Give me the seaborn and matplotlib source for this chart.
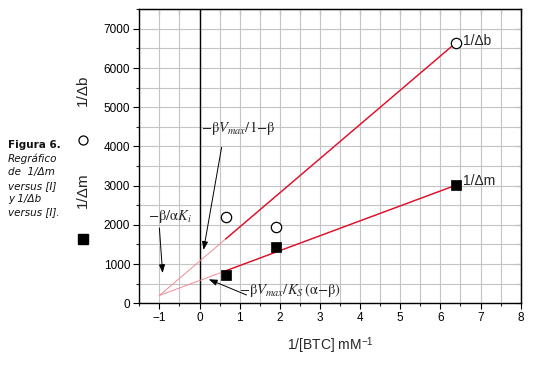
import numpy as np
import matplotlib
matplotlib.use("Agg")
import matplotlib.pyplot as plt
import matplotlib.lines as mlines
from matplotlib.ticker import MultipleLocator
import seaborn as sns

# values
inv_btc = [0.65, 1.9, 6.38]          # 1/[BTC] mM^-1
inv_db = [2200, 1950, 6640]          # 1/Δb
inv_dm = [730, 1430, 3010]           # 1/Δm

# straight-line fits, both meeting at x = -1
fit_x = [-1.0, 6.38]
fit_db = [200, 6640]
fit_dm = [200, 3010]
solid_from = 0.65

sns.set_style("ticks")
plt.rcParams["font.family"] = ["Liberation Sans", "DejaVu Sans"]
plt.rcParams["mathtext.fontset"] = "stix"

fig = plt.figure(figsize=(5.35, 3.67), dpi=100)
ax = fig.add_axes([0.2604, 0.1736, 0.9733 - 0.2604, 0.9747 - 0.1736])

ax.set_xlim(-1.5, 8)
ax.set_ylim(0, 7500)
ax.xaxis.set_major_locator(MultipleLocator(1))
ax.xaxis.set_minor_locator(MultipleLocator(0.5))
ax.yaxis.set_major_locator(MultipleLocator(1000))
ax.yaxis.set_minor_locator(MultipleLocator(500))
ax.grid(True, which="both", color="#c4c4c4", lw=0.8)
ax.set_axisbelow(True)
ax.axvline(0, color="black", lw=1.0, zorder=1.5)

red = "#e0102a"
pink = "#f08a96"
for fy in (fit_db, fit_dm):
    # faint extrapolated part, then the solid part over the data
    y_solid = np.interp(solid_from, fit_x, fy)
    sns.lineplot(x=fit_x, y=fy, ax=ax, color=pink, lw=0.7, zorder=2)
    sns.lineplot(x=[solid_from, fit_x[1]], y=[y_solid, fy[1]], ax=ax,
                 color=red, lw=1.0, zorder=2.2)

sns.scatterplot(x=inv_btc, y=inv_db, ax=ax, marker="o", s=55,
                facecolor="white", edgecolor="black", linewidth=0.9, zorder=3)
sns.scatterplot(x=inv_btc, y=inv_dm, ax=ax, marker="s", s=55,
                color="black", edgecolor="black", linewidth=0.5, zorder=3)

ax.text(6.55, 6700, "1/Δb", fontsize=10, va="center", ha="left")
ax.text(6.55, 3110, "1/Δm", fontsize=10, va="center", ha="left")

for sp in ax.spines.values():
    sp.set_color("black")
    sp.set_linewidth(1.0)
ax.tick_params(axis="both", which="major", direction="out", length=4.5,
               width=0.8, labelsize=8.5, pad=2, colors="black")
ax.tick_params(axis="both", which="minor", direction="out", length=2.5,
               width=0.8)

top = ax.secondary_xaxis("top")
top.xaxis.set_major_locator(MultipleLocator(0.5))
top.tick_params(direction="in", length=4.5, width=0.8, labeltop=False)
right = ax.secondary_yaxis("right")
right.yaxis.set_major_locator(MultipleLocator(1000))
right.yaxis.set_minor_locator(MultipleLocator(500))
right.tick_params(which="major", direction="in", length=4.5, width=0.8,
                  labelright=False)
right.tick_params(which="minor", direction="in", length=2.5, width=0.8)

ax.set_xlabel("1/[BTC] mM$^{\\mathregular{-1}}$", fontsize=10, labelpad=8)
ax.set_ylabel("")

# annotations
arrow = dict(arrowstyle="-|>,head_length=0.5,head_width=0.18", color="black",
             lw=0.7, shrinkA=0, shrinkB=0)
ax.annotate("", xy=(-0.92, 770), xytext=(-1.0, 1920), arrowprops=arrow)
ax.text(-0.75, 2220, r"$-\mathrm{\beta/\alpha}K_i$", fontsize=10.5,
        ha="center", va="center")
ax.annotate("", xy=(0.1, 1360), xytext=(0.55, 3980), arrowprops=arrow)
ax.text(0.95, 4470, r"$-\mathrm{\beta}V_{max}/\mathrm{1{-}\beta}$",
        fontsize=10.5, ha="center", va="center")
ax.annotate("", xy=(0.23, 612), xytext=(1.17, 212), arrowprops=arrow)
ax.text(2.25, 340,
        r"$-\mathrm{\beta}V_{max}/K_S\,\mathrm{(\alpha{-}\beta)}$",
        fontsize=10.5, ha="center", va="center")

# side legend
fig.text(0.155, 0.755, "1/Δb", rotation=90, fontsize=11, ha="center",
         va="center")
fig.text(0.155, 0.482, "1/Δm", rotation=90, fontsize=11, ha="center",
         va="center")
fig.add_artist(mlines.Line2D([0.155], [0.619], transform=fig.transFigure,
                             marker="o", ms=6.5, mfc="white", mec="black",
                             mew=0.9, ls="none"))
fig.add_artist(mlines.Line2D([0.155], [0.349], transform=fig.transFigure,
                             marker="s", ms=6.5, mfc="black", mec="black",
                             ls="none"))

# caption
fig.text(0.015, 1 - 145 / 367, "Figura 6.", fontsize=7.5, fontweight="bold",
         family="DejaVu Sans", va="center", color="#111111")
caption = ["Regráfico", "de  1/Δm", "versus [I]", "y 1/Δb", "versus [I]."]
for i, line in enumerate(caption):
    fig.text(0.015, 1 - (159 + 13.3 * i) / 367, line, fontsize=7.5,
             style="italic", family="DejaVu Sans", va="center",
             color="#111111")

fig.savefig("out.png", dpi=100)
